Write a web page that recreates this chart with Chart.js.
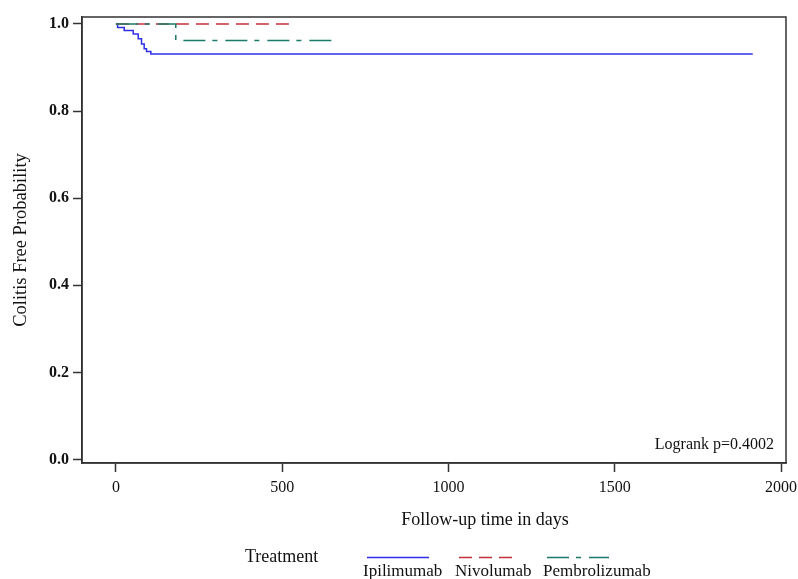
<!DOCTYPE html>
<html>
<head>
<meta charset="utf-8">
<script src="https://cdn.jsdelivr.net/npm/chart.js@4"></script>
<style>
html,body{margin:0;padding:0;background:#fff;}
#wrap{width:798px;height:579px;position:relative;}
</style>
</head>
<body>
<div id="wrap"><canvas id="c" width="798" height="579"></canvas></div>
<script>
// ---- data ----
const seriesNames = ["Ipilimumab", "Nivolumab", "Pembrolizumab"];
const ipiTimes = [0, 5, 25, 52, 67, 77, 85, 92, 105, 1915];
const ipiSurv  = [1, 0.992, 0.985, 0.977, 0.966, 0.954, 0.943, 0.937, 0.931, 0.931];
const nivoTimes = [0, 531];
const nivoSurv  = [1, 1];
const pembroTimes = [0, 180, 664];
const pembroSurv  = [1, 0.962, 0.962];
const xTicks = [0, 500, 1000, 1500, 2000];
const yTicks = [0.0, 0.2, 0.4, 0.6, 0.8, 1.0];
const xTitle = "Follow-up time in days";
const yTitle = "Colitis Free Probability";
const legendTitle = "Treatment";
const annotation = "Logrank p=0.4002";

// ---- styles ----
const FONT = '"Liberation Serif", "Times New Roman", "DejaVu Serif", serif';
const INK = '#333333';
const colors = ['#2f2fe6', '#c4313c', '#1b7a69'];
const dashes = [[], [13, 7], [22, 7, 5, 8]];

function pts(xs, ys) { return xs.map((x, i) => ({x: x, y: ys[i]})); }

const datasets = [
  {label: seriesNames[0], data: pts(ipiTimes, ipiSurv), order: 3},
  {label: seriesNames[1], data: pts(nivoTimes, nivoSurv), order: 2},
  {label: seriesNames[2], data: pts(pembroTimes, pembroSurv), order: 1}
].map((d, i) => Object.assign(d, {
  borderColor: colors[i], borderWidth: 1.5, borderDash: dashes[i],
  stepped: 'before', pointRadius: 0, fill: false, tension: 0
}));

const extras = {
  id: 'extras',
  afterDraw(chart) {
    const ctx = chart.ctx, a = chart.chartArea;
    ctx.save();
    // frame
    ctx.strokeStyle = INK; ctx.lineWidth = 1.5;
    ctx.strokeRect(a.left, a.top, a.right - a.left, a.bottom - a.top);
    // annotation
    ctx.fillStyle = '#111';
    ctx.font = '16px ' + FONT;
    ctx.textAlign = 'right'; ctx.textBaseline = 'middle';
    ctx.fillText(annotation, a.right - 12, a.bottom - 18);
    // x title
    ctx.font = '18px ' + FONT;
    ctx.textAlign = 'center';
    ctx.fillText(xTitle, 485, 520);
    // legend
    ctx.textAlign = 'left';
    ctx.fillText(legendTitle, 245, 557);
    ctx.font = '17px ' + FONT;
    const lefts = [363, 455, 543];
    const lineLen = [62, 58, 62];
    seriesNames.forEach((n, i) => {
      ctx.setLineDash(dashes[i]);
      ctx.strokeStyle = colors[i]; ctx.lineWidth = 1.5;
      ctx.beginPath();
      ctx.moveTo(lefts[i] + 4, 557.5);
      ctx.lineTo(lefts[i] + 4 + lineLen[i], 557.5);
      ctx.stroke();
      ctx.setLineDash([]);
      ctx.fillStyle = '#111';
      ctx.fillText(n, lefts[i], 572);
    });
    ctx.restore();
  }
};

new Chart(document.getElementById('c'), {
  type: 'line',
  data: {datasets: datasets},
  plugins: [extras],
  options: {
    responsive: false,
    animation: false,
    events: [],
    layout: {padding: {top: 17, right: 12, bottom: 0, left: 0}},
    plugins: {legend: {display: false}, tooltip: {enabled: false}},
    scales: {
      x: {
        type: 'linear', min: -102, max: 2015,
        afterBuildTicks: s => { s.ticks = xTicks.map(v => ({value: v})); },
        afterFit: s => { s.height = 116; s.paddingLeft = 0; s.paddingRight = 0; },
        border: {display: true, color: INK, width: 1.5},
        grid: {display: true, drawOnChartArea: false, drawTicks: true, tickLength: 9, tickColor: INK, tickWidth: 1.5},
        ticks: {color: '#111', font: {family: FONT, size: 16}, padding: 6, maxRotation: 0,
                callback: v => String(v)}
      },
      y: {
        type: 'linear', min: -0.008, max: 1.016,
        afterBuildTicks: s => { s.ticks = yTicks.map(v => ({value: v})); },
        afterFit: s => { s.width = 82; s.paddingTop = 0; s.paddingBottom = 0; },
        border: {display: true, color: INK, width: 1.5},
        grid: {display: true, drawOnChartArea: false, drawTicks: true, tickLength: 9, tickColor: INK, tickWidth: 1.5},
        ticks: {color: '#111', font: {family: FONT, size: 16, weight: 'bold'}, padding: 4,
                callback: v => Number(v).toFixed(1)},
        title: {display: true, text: yTitle, color: '#111', font: {family: FONT, size: 18.5},
                padding: {top: 10, bottom: 0}}
      }
    }
  }
});
</script>
</body>
</html>
